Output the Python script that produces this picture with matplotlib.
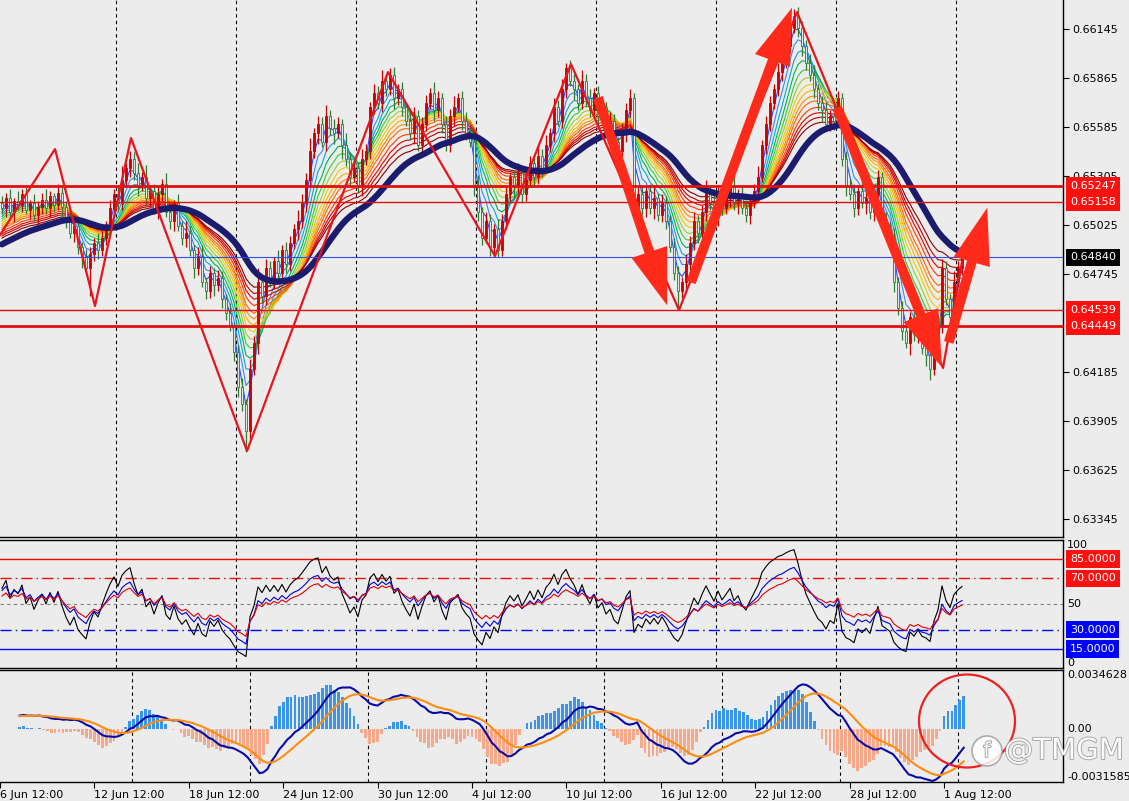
import matplotlib
matplotlib.use("Agg")
import matplotlib.pyplot as plt
import matplotlib.transforms as mtransforms
import matplotlib.patheffects as pe
from matplotlib.patches import Ellipse, FancyArrowPatch
import numpy as np
import pandas as pd

# ---- data (AUDUSD-like, H4 bars) ----
PRE_CLOSES = [
    0.6452, 0.6448, 0.6455, 0.6460, 0.6452, 0.6458, 0.6465, 0.6462, 0.6470, 0.6466,
    0.6458, 0.6463, 0.6472, 0.6468, 0.6475, 0.6480, 0.6474, 0.6470, 0.6478, 0.6485,
    0.6480, 0.6488, 0.6492, 0.6486, 0.6490, 0.6495, 0.6500, 0.6494, 0.6498, 0.6505,
    0.6500, 0.6496, 0.6503, 0.6508, 0.6502, 0.6506, 0.6510, 0.6504, 0.6508, 0.6515,
]

CLOSES = [
    0.6512, 0.6518, 0.6510, 0.6516, 0.6514, 0.6520, 0.6511, 0.6515, 0.6508, 0.6513,
    0.6517, 0.6512, 0.6519, 0.6514, 0.6521,
    0.6513, 0.6505, 0.6498, 0.6502, 0.6490, 0.6484, 0.6478, 0.6486, 0.6492,
    0.6488, 0.6495, 0.6503, 0.6512, 0.6520, 0.6515, 0.6528, 0.6535, 0.6540,
    0.6532, 0.6525, 0.6530, 0.6518, 0.6522, 0.6512, 0.6520, 0.6526, 0.6510, 0.6505, 0.6515,
    0.6502, 0.6495, 0.6498, 0.6488, 0.6478, 0.6485, 0.6470, 0.6465, 0.6475, 0.6468, 0.6472, 0.6460,
    0.6452, 0.6445, 0.6430, 0.6410, 0.6400, 0.6385, 0.6420, 0.6435, 0.6470,
    0.6462, 0.6478, 0.6470, 0.6482, 0.6475, 0.6488, 0.6480, 0.6492,
    0.6500, 0.6505, 0.6515, 0.6528, 0.6545, 0.6555, 0.6560, 0.6550, 0.6565, 0.6558,
    0.6555, 0.6560, 0.6548, 0.6540, 0.6530, 0.6535, 0.6525, 0.6540, 0.6545, 0.6570,
    0.6578, 0.6572, 0.6585, 0.6580, 0.6588, 0.6575, 0.6580,
    0.6570, 0.6562, 0.6555, 0.6565, 0.6548, 0.6560, 0.6572, 0.6578, 0.6568, 0.6575,
    0.6560, 0.6548, 0.6565, 0.6570, 0.6575, 0.6562,
    0.6555, 0.6550, 0.6525, 0.6510, 0.6495, 0.6505, 0.6490, 0.6500, 0.6488,
    0.6505, 0.6520, 0.6530, 0.6524, 0.6532, 0.6520, 0.6528, 0.6538, 0.6530, 0.6542,
    0.6535, 0.6548, 0.6555, 0.6570, 0.6562, 0.6580, 0.6592, 0.6585,
    0.6580, 0.6572, 0.6585, 0.6575, 0.6568, 0.6578, 0.6565, 0.6570, 0.6558, 0.6562,
    0.6550, 0.6545,
    0.6555, 0.6568, 0.6575, 0.6510, 0.6520, 0.6512,
    0.6522, 0.6512, 0.6518, 0.6508, 0.6515, 0.6505, 0.6490, 0.6475, 0.6465, 0.6470,
    0.6480, 0.6492, 0.6505, 0.6498, 0.6510, 0.6522, 0.6515, 0.6508, 0.6520, 0.6512,
    0.6518, 0.6525, 0.6515, 0.6520, 0.6512, 0.6508, 0.6515, 0.6522,
    0.6530, 0.6548, 0.6560, 0.6572, 0.6580, 0.6590, 0.6595, 0.6605, 0.6615, 0.6622,
    0.6615, 0.6605, 0.6595, 0.6588, 0.6580, 0.6572, 0.6568, 0.6560, 0.6565, 0.6562, 0.6575,
    0.6540, 0.6525, 0.6520, 0.6512, 0.6522, 0.6515, 0.6518, 0.6510, 0.6520, 0.6530,
    0.6505, 0.6500, 0.6495, 0.6470, 0.6455, 0.6442, 0.6435, 0.6450, 0.6440, 0.6445,
    0.6432, 0.6428, 0.6420, 0.6435, 0.6445, 0.6478,
    0.6460, 0.6450, 0.6470, 0.6478, 0.6484,
]

# wick lengths in pips beyond the candle body
UPPER_WICK_PIPS = [int(v) for v in """
4 3 5 2 6 3 4 2 5 3 4 6 3 2 5 4 3 6 2 4
3 5 4 3 6 4 2 5 3 4 8 3 5 4 6 3 7 2 4 5
3 6 4 2 5 3 7 4 3 5 6 2 4 3 5 4 3 6 2 4
5 3 6 4 8 3 5 4 2 6 3 5 4 3 6 5 4 7 3 5
4 6 3 5 4 3 7 4 5 3 6 4 3 5 4 6 3 4 5 3
4 3 6 5 3 4 5 3 6 4 3 5 4 6 3 4 5 3 4 6
3 5 4 3 6 4 5 3 4 6 3 5 4 3 5 4 6 3 5 4
6 3 5 4 3 6 4 5 3 4 6 3 5 4 3 6 4 5 3 4
5 3 4 6 3 5 4 3 5 4 3 6 4 5 3 4 6 3 8 4
3 5 4 6 3 4 5 3 4 6 3 5 4 3 5 4 6 3 4 5
4 3 5 6 3 4 5 3 6 4 3 5 4 6 3 8 4 3 5 4
3 5 4 6 3 4 5 3 4 6 3 5 4 3 6 5 4 3 6 4
5
""".split()]
LOWER_WICK_PIPS = [int(v) for v in """
3 5 4 6 3 4 2 5 3 6 4 3 5 4 3 6 4 3 5 4
6 3 16 4 5 3 4 6 3 5 4 3 5 4 6 3 4 5 3 6
4 3 5 6 3 4 5 3 6 4 3 5 4 6 3 5 4 3 5 6
4 12 5 3 6 4 5 3 4 6 3 5 4 3 6 4 5 3 4 6
3 5 4 6 3 8 4 5 3 4 6 3 5 4 3 5 4 3 6 4
5 3 4 6 3 5 4 3 6 4 5 3 4 6 3 5 4 3 6 5
4 3 5 6 4 3 5 4 6 3 5 4 3 6 4 5 3 4 5 3
4 5 3 6 4 3 5 4 3 6 4 5 3 4 6 3 5 4 3 6
4 5 3 6 3 4 5 3 4 11 4 5 3 4 6 3 5 4 3 6
4 3 5 4 6 3 4 5 3 4 3 5 4 3 4 5 3 4 3 5
6 4 3 5 4 6 3 4 5 3 4 6 3 5 4 3 6 4 5 3
4 5 3 6 4 5 3 7 4 5 3 6 6 3 5 4 3 6 4 3
4
""".split()]

PRICE_TICKS = [0.66145, 0.65865, 0.65585, 0.65305, 0.65025, 0.64745,
               0.64185, 0.63905, 0.63625, 0.63345]
RED_LEVELS = [0.65247, 0.65158, 0.64539, 0.64449]
RED_LEVEL_THICK = [True, False, False, True]
LAST_PRICE = 0.64840

ZIGZAG_BARS = [-0.5, 13.25, 23.25, 32.25, 61.25, 96.5, 123.25, 142.25,
               169.25, 198.75, 235.25, 240]
ZIGZAG_PRICES = [0.64968, 0.65459, 0.64562, 0.65522, 0.63734, 0.65899, 0.64848,
                 0.65945, 0.64539, 0.66242, 0.64208, 0.64814]
ARROW_TAILS = [(148.75, 0.65768), (172.0, 0.64682), (208.5, 0.65711), (236.5, 0.64339)]
ARROW_TIPS = [(166.5, 0.64551), (197.75, 0.66282), (235.25, 0.64197), (246.5, 0.65139)]

RSI_LEVELS = [85, 70, 50, 30, 15]
MACD_MAX, MACD_MIN = 0.0034628, -0.0031585

DATE_LABELS = ["6 Jun 12:00", "12 Jun 12:00", "18 Jun 12:00", "24 Jun 12:00",
               "30 Jun 12:00", "4 Jul 12:00", "10 Jul 12:00", "16 Jul 12:00",
               "22 Jul 12:00", "28 Jul 12:00", "1 Aug 12:00"]

# ---- indicators ----
RIBBON_PERIODS = [3, 5, 7, 9, 11, 13, 15, 17, 19, 21, 24, 27, 30, 34]
RIBBON_COLORS = ["#1f4fff", "#2f8cff", "#00a8d8", "#00b050", "#30d030", "#9acd32",
                 "#e6d000", "#ffb000", "#ff8c00", "#ff6400", "#ff3a00", "#e00000",
                 "#c00000", "#8b0000"]

closes_all = pd.Series(PRE_CLOSES + CLOSES)
n_pre = len(PRE_CLOSES)


def ema(s, n):
    return s.ewm(span=n, adjust=True).mean()


def rsi(s, n):
    d = s.diff()
    up = d.clip(lower=0).ewm(alpha=1 / n, adjust=False).mean()
    dn = (-d.clip(upper=0)).ewm(alpha=1 / n, adjust=False).mean()
    return 100 - 100 / (1 + up / dn)


def visible(s):
    return s.to_numpy()[n_pre:]


closes = np.array(CLOSES)
opens = np.array([PRE_CLOSES[-1]] + CLOSES[:-1])
highs = np.maximum(opens, closes) + np.array(UPPER_WICK_PIPS) * 0.0001
lows = np.minimum(opens, closes) - np.array(LOWER_WICK_PIPS) * 0.0001
bars = np.arange(len(CLOSES))

# slow trend line: smoothed EMA
trend = visible(ema(ema(closes_all, 36), 6))
macd_line = ema(closes_all, 12) - ema(closes_all, 26)
signal = macd_line.ewm(span=9, adjust=True).mean()
hist = visible((macd_line - signal) * 2.4)

# ---- layout ----
W, H = 1129, 801
BG = "#ececec"
plt.rcParams["font.family"] = ["DejaVu Sans"]
fig = plt.figure(figsize=(W / 100, H / 100), dpi=100, facecolor=BG)


def rect(x0, y0, x1, y1):
    return [x0 / W, 1 - y1 / H, (x1 - x0) / W, (y1 - y0) / H]


ax = fig.add_axes(rect(0, 0, 1063, 537))
ax_rsi = fig.add_axes(rect(0, 540, 1063, 668))
ax_macd = fig.add_axes(rect(0, 670, 1063, 782))

XMIN, XMAX = -0.5, 265.25
sep_bars = np.arange(28.5, 245, 30)
for a in (ax, ax_rsi, ax_macd):
    a.set_facecolor(BG)
    a.set_xlim(XMIN, XMAX)
    a.spines["left"].set_visible(False)
    for s in ("right", "bottom", "top"):
        a.spines[s].set_color("black")
        a.spines[s].set_linewidth(1)
    for xb in sep_bars:
        a.axvline(xb, color="black", lw=0.8, ls=(0, (3, 3)), zorder=1)
    a.tick_params(axis="x", bottom=False, labelbottom=False)
ax.spines["top"].set_visible(False)

# ---- main price panel ----
ax.set_ylim(0.63242, 0.66311)
bull = closes >= opens
ax.vlines(bars[bull], lows[bull], highs[bull], color="#c80000", lw=0.9, zorder=3)
ax.vlines(bars[~bull], lows[~bull], highs[~bull], color="#2e7d32", lw=0.9, zorder=3)
body_h = np.maximum(np.abs(closes - opens), 0.00002)
ax.bar(bars[bull], body_h[bull], bottom=np.minimum(opens, closes)[bull], width=0.7,
       color="#c80000", edgecolor="#c80000", lw=0.6, zorder=3.2)
ax.bar(bars[~bull], body_h[~bull], bottom=np.minimum(opens, closes)[~bull], width=0.7,
       color="#dfe8df", edgecolor="#2e7d32", lw=0.6, zorder=3.2)

for p, col in zip(RIBBON_PERIODS, RIBBON_COLORS):
    ax.plot(bars, visible(ema(closes_all, p)), color=col, lw=0.8, zorder=2.5)
ax.plot(bars, trend, color="#1c1c6e", lw=4.5, solid_capstyle="round", zorder=4)

for lvl, thick in zip(RED_LEVELS, RED_LEVEL_THICK):
    ax.axhline(lvl, color="#e01010", lw=2.0 if thick else 1.0, zorder=4.5)
ax.axhline(LAST_PRICE, color="#3050e0", lw=0.8, zorder=4.5)

ax.plot(ZIGZAG_BARS, ZIGZAG_PRICES, color="#e8141e", lw=1.6, zorder=5)
for tail, tip in zip(ARROW_TAILS, ARROW_TIPS):
    ax.add_patch(FancyArrowPatch(
        tail, tip, arrowstyle="simple,head_width=1.0,head_length=1.5,tail_width=0.26",
        mutation_scale=27, color="#ff2a1a", lw=0, zorder=6))

ax.yaxis.tick_right()
ax.set_yticks(PRICE_TICKS)
ax.set_yticklabels([f"{v:.5f}" for v in PRICE_TICKS])
ax.tick_params(axis="y", length=4, width=0.8, pad=3, labelsize=8, colors="black")

ytrans = mtransforms.blended_transform_factory(ax.transAxes, ax.transData)
box_kw = dict(transform=ytrans, ha="left", va="center", fontsize=8, color="white",
              zorder=10, clip_on=False)
for lvl in RED_LEVELS:
    ax.text(1.0065, lvl, f"{lvl:.5f}", **box_kw,
            bbox=dict(boxstyle="square,pad=0.35", fc="#ff1010", ec="none"))
ax.text(1.0065, LAST_PRICE, f"{LAST_PRICE:.5f}", **box_kw,
        bbox=dict(boxstyle="square,pad=0.35", fc="black", ec="none"))

# ---- RSI panel ----
ax_rsi.set_ylim(0, 100)
ax_rsi.set_yticks([])
ax_rsi.axhline(85, color="#ff0000", lw=1)
ax_rsi.axhline(70, color="#ff0000", lw=1, ls=(0, (8, 3, 1, 3)))
ax_rsi.axhline(50, color="#808080", lw=0.8, ls=(0, (3, 3)))
ax_rsi.axhline(30, color="#0000ff", lw=1, ls=(0, (8, 3, 1, 3)))
ax_rsi.axhline(15, color="#0000ff", lw=1)
ax_rsi.plot(bars, visible(rsi(closes_all, 7)), color="black", lw=0.8)
ax_rsi.plot(bars, visible(rsi(closes_all, 14)), color="#0000dd", lw=0.8)
ax_rsi.plot(bars, visible(rsi(closes_all, 21)), color="#e00000", lw=0.8)

rtrans = mtransforms.blended_transform_factory(ax_rsi.transAxes, ax_rsi.transData)
ax_rsi.text(1.004, 100, "100", transform=rtrans, ha="left", va="top", fontsize=8)
ax_rsi.text(1.004, 50, "50", transform=rtrans, ha="left", va="center", fontsize=8)
ax_rsi.text(1.004, 0, "0", transform=rtrans, ha="left", va="bottom", fontsize=8)
for lvl in RSI_LEVELS:
    if lvl == 50:
        continue
    ax_rsi.text(1.0065, lvl, f"{lvl:.4f}", transform=rtrans, ha="left", va="center",
                fontsize=8, color="white", clip_on=False,
                bbox=dict(boxstyle="square,pad=0.35",
                          fc="#ff1010" if lvl > 50 else "#0000ff", ec="none"))

# ---- MACD panel ----
ax_macd.set_ylim(MACD_MIN, MACD_MAX)
ax_macd.set_yticks([])
ax_macd.bar(bars, hist, width=0.7,
            color=["#3a96ea" if h > 0 else "#f6a98a" for h in hist], zorder=2)
ax_macd.plot(bars, visible(macd_line), color="#0a0aa8", lw=1.5, zorder=3)
ax_macd.plot(bars, visible(signal), color="#ff8c10", lw=1.5, zorder=3)

mtrans = mtransforms.blended_transform_factory(ax_macd.transAxes, ax_macd.transData)
ax_macd.text(1.004, MACD_MAX, f"{MACD_MAX:.7f}", transform=mtrans, ha="left",
             va="top", fontsize=8)
ax_macd.text(1.004, 0, "0.00", transform=mtrans, ha="left", va="center", fontsize=8)
ax_macd.text(1.004, MACD_MIN, f"{MACD_MIN:.7f}", transform=mtrans, ha="left",
             va="bottom", fontsize=8)

date_ticks = [-5 + 24 * i for i in range(len(DATE_LABELS))]
ax_macd.set_xticks(date_ticks)
ax_macd.set_xticklabels(DATE_LABELS, ha="left")
ax_macd.tick_params(axis="x", bottom=True, labelbottom=True, length=4, width=0.8,
                    pad=2, labelsize=8)

# highlight circle and watermark
fig.add_artist(Ellipse((967 / W, 1 - 721 / H), 96 / W, 93 / H, transform=fig.transFigure,
                       fill=False, ec="#ee2020", lw=1.6))
fig.add_artist(Ellipse((987 / W, 1 - 751 / H), 30 / W, 30 / H, transform=fig.transFigure,
                       fc="white", ec="#a0a0a0", lw=1.2, alpha=0.85))
fig.text(987 / W, 1 - 751 / H, "f", ha="center", va="center", fontsize=15,
         color="white", path_effects=[pe.withStroke(linewidth=1.2, foreground="#999999")])
fig.text(1004 / W, 1 - 751 / H, "@TMGM", ha="left", va="center", fontsize=21,
         color="white", alpha=0.95,
         path_effects=[pe.withStroke(linewidth=1.2, foreground="#9a9a9a")])

fig.savefig("out.png", dpi=100, facecolor=BG)
